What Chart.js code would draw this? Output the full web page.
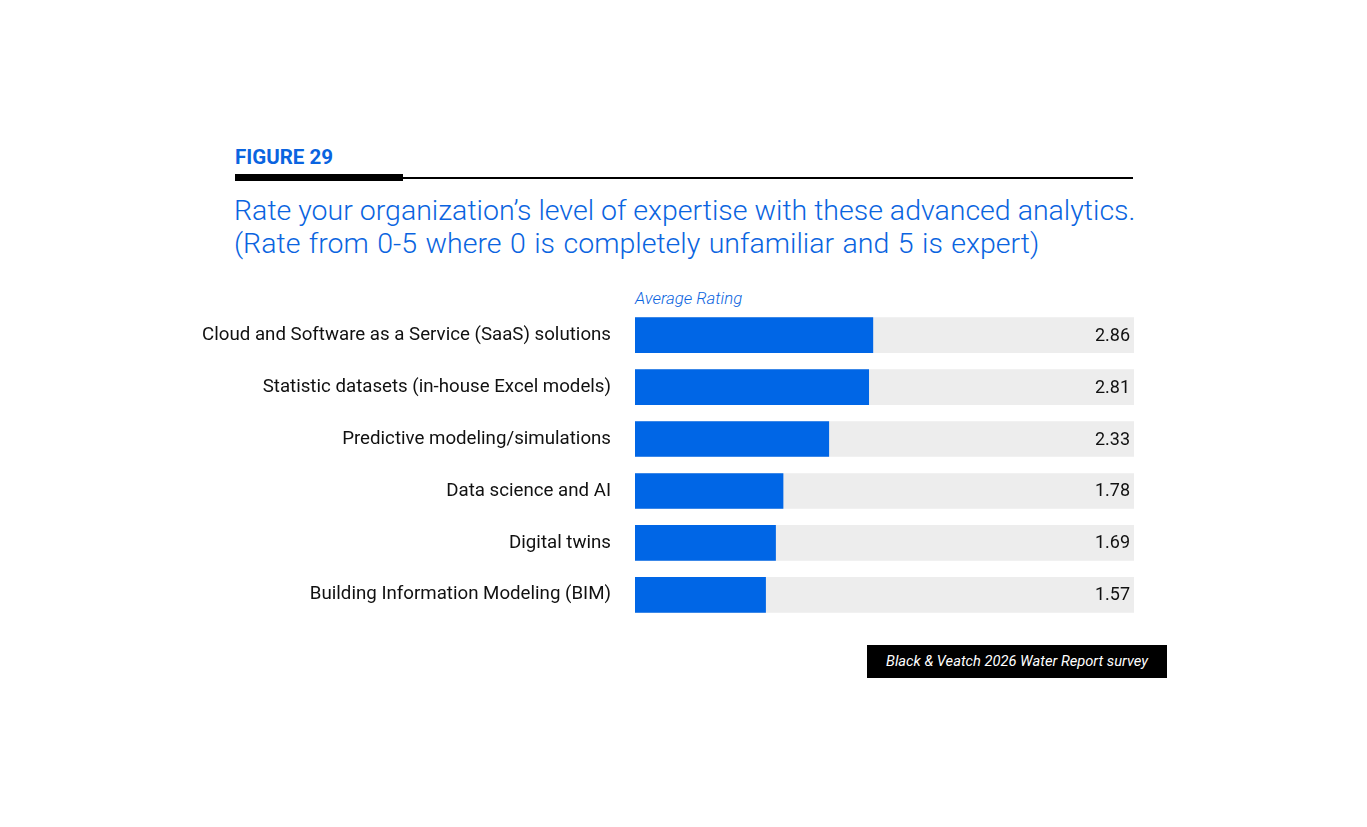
<!DOCTYPE html>
<html>
<head>
<meta charset="utf-8">
<script src="https://cdn.jsdelivr.net/npm/chart.js@4"></script>
<style>
  body { margin:0; background:#fff; font-family: Roboto, sans-serif; }
  #wrap { position:relative; width:1367px; height:827px; }
  .fig { position:absolute; left:235px; top:145px; color:#0a64e0; font-weight:700; font-size:20.5px; }
  .thick { position:absolute; left:235px; top:174px; width:168px; height:7px; background:#000; }
  .thin { position:absolute; left:235px; top:177px; width:898px; height:2px; background:#000; }
  .title { position:absolute; left:234px; top:194px; color:#0a64e0; font-weight:300; font-size:28.5px; line-height:33px; white-space:nowrap; }
  .title .l2 { word-spacing:1.5px; }
  .sub { position:absolute; left:635px; top:288px; color:#0a64e0; font-style:italic; font-weight:300; font-size:16.8px; }
  .src { position:absolute; left:867px; top:645px; width:300px; height:33px; background:#000; color:#fff; font-style:italic; font-size:14.7px; line-height:33px; text-align:center; }
  #box { position:absolute; left:0; top:274px; width:1367px; height:382px; }
</style>
</head>
<body>
<div id="wrap">
  <div class="fig">FIGURE 29</div>
  <div class="thin"></div>
  <div class="thick"></div>
  <div class="title">Rate your organization’s level of expertise with these advanced analytics.<br><span class="l2">(Rate from 0-5 where 0 is completely unfamiliar and 5 is expert)</span></div>
  <div class="sub">Average Rating</div>
  <div id="box"><canvas id="c"></canvas></div>
  <div class="src">Black &amp; Veatch 2026 Water Report survey</div>
</div>
<script>
var categories = [
  'Cloud and Software as a Service (SaaS) solutions',
  'Statistic datasets (in-house Excel models)',
  'Predictive modeling/simulations',
  'Data science and AI',
  'Digital twins',
  'Building Information Modeling (BIM)'
];
var ratings = [2.86, 2.81, 2.33, 1.78, 1.69, 1.57];
var scaleMax = 6;

// gray track behind each bar
var track = categories.map(function(){ return scaleMax; });

var valueLabels = {
  id: 'valueLabels',
  afterDatasetsDraw: function(chart){
    var ctx = chart.ctx;
    var meta = chart.getDatasetMeta(0);
    ctx.save();
    ctx.font = '18px Roboto';
    ctx.fillStyle = '#111';
    ctx.textAlign = 'right';
    ctx.textBaseline = 'middle';
    meta.data.forEach(function(bar, i){
      ctx.fillText(ratings[i].toFixed(2), chart.chartArea.right - 4, bar.y + 1);
    });
    ctx.restore();
  }
};

var myChart = new Chart(document.getElementById('c'), {
  type: 'bar',
  data: {
    labels: categories,
    datasets: [{
      data: ratings,
      backgroundColor: '#0066e6',
      barThickness: 35,
      grouped: false
    }, {
      data: track,
      backgroundColor: '#ededed',
      barThickness: 35,
      grouped: false
    }]
  },
  options: {
    indexAxis: 'y',
    responsive: true,
    maintainAspectRatio: false,
    animation: false,
    layout: { padding: { top: 8, bottom: 9, right: 233, left: 0 } },
    plugins: { legend: { display: false }, tooltip: { enabled: false } },
    scales: {
      x: { display: false, min: 0, max: scaleMax },
      y: {
        grid: { display: false, drawTicks: false },
        border: { display: false },
        ticks: { color: '#111', font: { family: 'Roboto', size: 18.7 }, padding: 24 },
        afterFit: function(scale){ scale.width = 635; }
      }
    }
  },
  plugins: [valueLabels]
});
</script>
</body>
</html>
